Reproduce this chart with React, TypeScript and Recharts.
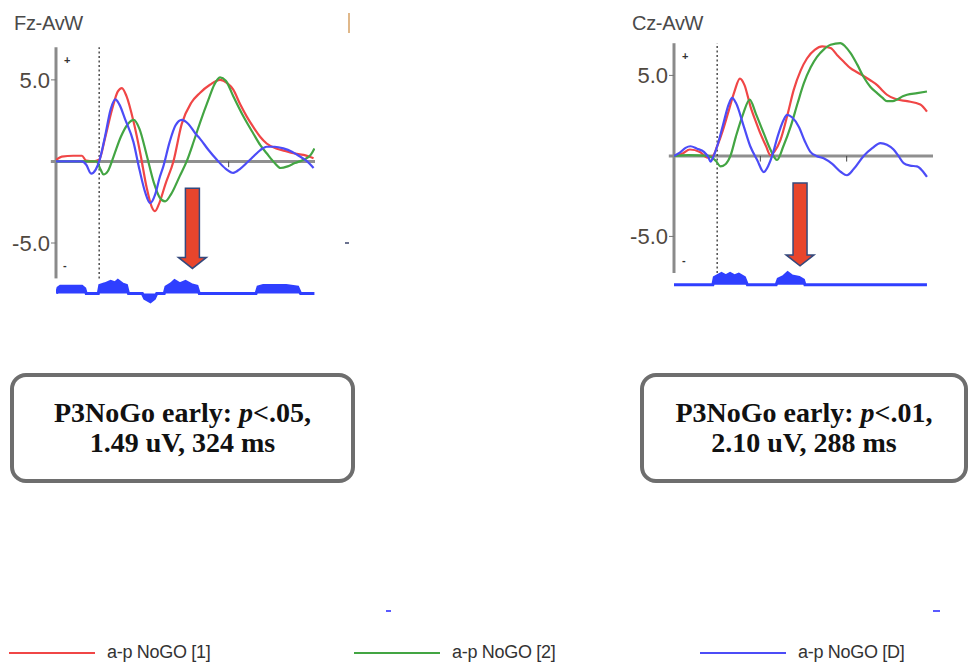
import { ComposedChart, Line, Area, XAxis, YAxis, ReferenceLine } from "recharts";

type Pt = [number, number];

// series names + colours (legend order)
const SERIES_NAMES = ["a-p NoGO [1]", "a-p NoGO [2]", "a-p NoGO [D]"];
const SERIES_COLORS = ["#f04646", "#43a543", "#4c4cf7"];
const SIG_COLOR = "#2f3fff";

const TIME_DOMAIN: [number, number] = [-150, 750];
const Y_TICKS = [5, -5];
const AXIS_TICK_MS = [150, 450];

// Fz panel, [ms, uV]
const fzRed: Pt[] = [
  [-150, 0.1], [-130, 0.3], [-90, 0.35], [-60, 0.35], [-45, 0.05], [-20, 0], [0, 0.1], [20, 1.4], [45, 3.2],
  [65, 4.3], [79, 4.5], [95, 4.0], [120, 2.4], [145, 0.3], [165, -1.6], [183, -2.8], [194, -3.05], [208, -2.6],
  [230, -1.4], [258, 0], [287, 2.3], [320, 3.6], [350, 4.2], [385, 4.7], [420, 5.0], [445, 4.8], [466, 4.4],
  [490, 3.5], [513, 2.75], [536, 2.1], [560, 1.5], [582, 1.1], [615, 0.8], [645, 0.65], [675, 0.5], [710, 0.4], [745, 0.2],
];
const fzGreen: Pt[] = [
  [-150, 0], [-100, 0], [-10, 0], [5, -0.5], [15, -0.8], [30, -0.6], [50, 0.3], [75, 1.5], [100, 2.3], [120, 2.55],
  [140, 2.0], [165, 0.4], [190, -1.3], [210, -2.2], [229, -2.45], [250, -2.0], [280, -0.9], [304, 0], [330, 1.3],
  [350, 2.35], [380, 3.8], [400, 4.7], [420, 5.15], [440, 4.95], [466, 4.0], [500, 2.8], [536, 1.7], [560, 1.0],
  [582, 0.5], [610, -0.1], [630, -0.4], [655, -0.3], [680, -0.1], [710, 0.1], [735, 0.4], [748, 0.8],
];
const fzBlue: Pt[] = [
  [-150, 0], [-60, 0], [-45, -0.2], [-28, -0.75], [-12, -0.5], [0, 0], [20, 1.5], [40, 3.2], [56, 3.8], [70, 3.5],
  [90, 2.6], [119, 1.2], [140, -0.5], [160, -1.9], [177, -2.55], [195, -2.0], [210, -1.0], [223, -0.3], [245, 1.2],
  [265, 2.2], [287, 2.55], [310, 2.3], [335, 1.7], [350, 1.4], [380, 0.7], [409, 0.1], [440, -0.45], [466, -0.7],
  [490, -0.45], [515, -0.05], [536, 0.3], [560, 0.7], [582, 0.9], [610, 0.9], [640, 0.8], [670, 0.6], [698, 0.3],
  [720, 0.05], [745, -0.4],
];
// significance strip height above its baseline
const fzSig: Pt[] = [
  [-148, 0], [-143, 0.35], [-135, 0.45], [-60, 0.45], [-50, 0.3], [-45, 0], [-3, 0], [2, 0.5], [20, 0.6], [40, 0.75],
  [55, 0.65], [65, 0.8], [80, 0.6], [95, 0.5], [102, 0], [150, 0], [158, -0.3], [178, -0.5], [192, -0.3], [200, 0],
  [226, 0], [232, 0.4], [250, 0.6], [262, 0.8], [280, 0.6], [300, 0.75], [320, 0.55], [340, 0.45], [348, 0],
  [545, 0], [552, 0.4], [570, 0.5], [650, 0.5], [690, 0.4], [700, 0], [748, 0],
];

// Cz panel
const czRed: Pt[] = [
  [-150, 0], [-120, 0.15], [-95, 0.4], [-60, 0.25], [-35, -0.1], [-15, 0], [0, 0.6], [20, 1.6], [40, 2.8], [60, 4.0],
  [79, 4.8], [95, 4.4], [116, 3.05], [135, 2.1], [150, 1.4], [170, 0.6], [185, 0.05], [200, 0.3], [220, 1.0],
  [245, 2.6], [266, 4.1], [290, 5.3], [312, 6.05], [340, 6.6], [365, 6.8], [394, 6.7], [420, 6.2], [440, 5.85],
  [463, 5.45], [486, 5.2], [510, 4.95], [532, 4.7], [556, 4.4], [575, 4.05], [590, 3.8], [625, 3.5], [660, 3.4],
  [706, 3.2], [729, 2.75],
];
const czGreen: Pt[] = [
  [-150, 0], [-100, 0.05], [-30, 0], [-5, -0.3], [12, -0.65], [30, -0.5], [46, 0], [65, 1.2], [90, 2.6], [113, 3.5],
  [135, 2.6], [162, 1.4], [185, 0.4], [208, -0.25], [230, 0.6], [255, 1.8], [280, 3.3], [301, 4.5], [325, 5.5],
  [347, 6.15], [370, 6.6], [394, 6.9], [428, 7.0], [445, 6.8], [463, 6.4], [486, 5.7], [509, 4.9], [532, 4.3],
  [556, 3.9], [575, 3.6], [590, 3.4], [610, 3.4], [625, 3.5], [645, 3.7], [660, 3.8], [695, 3.9], [729, 4.0],
];
const czBlue: Pt[] = [
  [-150, 0], [-130, 0.2], [-110, 0.5], [-93, 0.6], [-70, 0.45], [-46, 0.25], [-30, -0.1], [-23, -0.35], [-12, 0],
  [0, 0.6], [20, 1.9], [40, 3.2], [52, 3.6], [65, 3.3], [93, 1.8], [115, 0.6], [139, -0.25], [162, -1.0],
  [178, -0.6], [191, 0], [210, 1.2], [230, 2.2], [243, 2.55], [260, 2.4], [284, 1.8], [305, 0.9], [324, 0.25],
  [345, 0], [370, -0.15], [400, -0.5], [430, -1.0], [451, -1.2], [475, -0.8], [509, 0], [540, 0.5], [567, 0.8],
  [590, 0.7], [613, 0.4], [630, 0], [648, -0.45], [670, -0.6], [694, -0.65], [712, -0.9], [729, -1.3],
];
const czSig: Pt[] = [
  [-150, 0], [-15, 0], [-10, 0.45], [5, 0.6], [15, 0.7], [30, 0.55], [45, 0.7], [60, 0.55], [75, 0.65], [95, 0.45],
  [105, 0], [205, 0], [212, 0.35], [230, 0.5], [245, 0.75], [260, 0.55], [285, 0.45], [300, 0.3], [305, 0], [729, 0],
];

const toRows = (pts: Pt[], offset = 0) => pts.map(([t, v]) => ({ t, v: v + offset }));

function DownArrow(p: any) {
  const cx = p.x1;
  const top = Math.min(p.y1, p.y2);
  const tip = Math.max(p.y1, p.y2);
  const hb = tip - 11;
  const d = `M${cx - 7},${top} L${cx + 7},${top} L${cx + 7},${hb} L${cx + 14},${hb} L${cx},${tip} L${cx - 14},${hb} L${cx - 7},${hb} Z`;
  return <path d={d} fill="#e8452c" stroke="#34497d" strokeWidth={1.5} />;
}

interface PanelProps {
  left: number;
  width: number;
  height: number;
  margin: { top: number; right: number; bottom: number; left: number };
  yDomain: [number, number];
  axisBottom: number;
  sigBase: number;
  red: Pt[];
  green: Pt[];
  blue: Pt[];
  sig: Pt[];
  arrow: [number, number, number]; // ms, top uV, tip uV
}

function Panel(props: PanelProps) {
  const { yDomain, axisBottom, sigBase, arrow } = props;
  const series = [props.red, props.green, props.blue];
  return (
    <div style={{ position: "absolute", left: props.left, top: 0 }}>
      <ComposedChart width={props.width} height={props.height} margin={props.margin}>
        <XAxis type="number" dataKey="t" domain={TIME_DOMAIN} allowDataOverflow hide />
        <YAxis
          type="number"
          domain={yDomain}
          allowDataOverflow
          ticks={Y_TICKS}
          width={56}
          axisLine={false}
          tickSize={5}
          tickMargin={1}
          tickLine={{ stroke: "#777" }}
          tickFormatter={(v: number) => v.toFixed(1)}
          tick={{ fontSize: 22, fill: "#4f483f", fontFamily: "Liberation Sans, Arial" }}
        />
        <ReferenceLine
          segment={[{ x: -168, y: 0 }, { x: 750, y: 0 }]}
          ifOverflow="visible"
          stroke="#8f8f8f"
          strokeWidth={3}
        />
        {AXIS_TICK_MS.map((t) => (
          <ReferenceLine key={t} segment={[{ x: t, y: 0 }, { x: t, y: -0.35 }]} stroke="#444" strokeWidth={1} />
        ))}
        <ReferenceLine
          segment={[{ x: -150, y: axisBottom }, { x: -150, y: 7.0 }]}
          ifOverflow="visible"
          stroke="#8a8a8a"
          strokeWidth={3}
        />
        <ReferenceLine
          segment={[{ x: 0, y: axisBottom }, { x: 0, y: 7.0 }]}
          stroke="#333"
          strokeWidth={1.3}
          strokeDasharray="2 2.5"
        />
        <Area
          data={toRows(props.sig, sigBase)}
          dataKey="v"
          type="linear"
          baseValue={sigBase}
          stroke={SIG_COLOR}
          strokeWidth={3}
          fill={SIG_COLOR}
          fillOpacity={1}
          isAnimationActive={false}
        />
        {series.map((s, i) => (
          <Line
            key={SERIES_NAMES[i]}
            data={toRows(s)}
            dataKey="v"
            type="monotone"
            stroke={SERIES_COLORS[i]}
            strokeWidth={2.2}
            dot={false}
            activeDot={false}
            isAnimationActive={false}
          />
        ))}
        <ReferenceLine
          segment={[{ x: arrow[0], y: arrow[1] }, { x: arrow[0], y: arrow[2] }]}
          shape={DownArrow}
        />
      </ComposedChart>
    </div>
  );
}

const titleStyle: React.CSSProperties = {
  position: "absolute",
  fontFamily: "Liberation Sans, Arial",
  fontSize: 20,
  color: "#4a4a4a",
  letterSpacing: -0.3,
};

const boxStyle: React.CSSProperties = {
  position: "absolute",
  top: 373,
  height: 102,
  border: "4px solid #6e6e6e",
  borderRadius: 16,
  display: "flex",
  alignItems: "center",
  justifyContent: "center",
  textAlign: "center",
  fontFamily: "Liberation Serif, Times New Roman",
  fontWeight: "bold",
  fontSize: 28,
  lineHeight: "30px",
  color: "#111",
  background: "#fff",
};

const signStyle: React.CSSProperties = {
  position: "absolute",
  fontFamily: "Liberation Sans, Arial",
  fontSize: 11,
  fontWeight: "bold",
  color: "#333",
};

const LEGEND_X = [9, 354, 700];

export default function App() {
  return (
    <div style={{ position: "fixed", left: 0, top: 0, width: 972, height: 666, background: "#fff", overflow: "hidden" }}>
      <div style={{ ...titleStyle, left: 14, top: 12 }}>Fz-AvW</div>
      <div style={{ ...titleStyle, left: 632, top: 12 }}>Cz-AvW</div>

      <Panel
        left={0}
        width={325}
        height={310}
        margin={{ top: 44, right: 10, bottom: 5, left: 0 }}
        yDomain={[-8.8, 7.2]}
        axisBottom={-7.17}
        sigBase={-8.1}
        red={fzRed}
        green={fzGreen}
        blue={fzBlue}
        sig={fzSig}
        arrow={[324, -1.65, -6.56]}
      />
      <Panel
        left={618}
        width={325}
        height={300}
        margin={{ top: 40, right: 10, bottom: 4, left: 0 }}
        yDomain={[-8.7, 7.2]}
        axisBottom={-7.27}
        sigBase={-8.0}
        red={czRed}
        green={czGreen}
        blue={czBlue}
        sig={czSig}
        arrow={[288, -1.68, -6.83]}
      />

      <div style={{ ...signStyle, left: 64, top: 54 }}>+</div>
      <div style={{ ...signStyle, left: 63, top: 259 }}>-</div>
      <div style={{ ...signStyle, left: 682, top: 50 }}>+</div>
      <div style={{ ...signStyle, left: 682, top: 254 }}>-</div>

      {/* cropped neighbour-panel remnants */}
      <div style={{ position: "absolute", left: 348, top: 13, width: 2, height: 20, background: "#e0b88a" }} />
      <div style={{ position: "absolute", left: 345, top: 242, width: 4, height: 2, background: "#6b7390" }} />
      <div style={{ position: "absolute", left: 386, top: 610, width: 5, height: 2, background: "#5a5aff" }} />
      <div style={{ position: "absolute", left: 933, top: 610, width: 7, height: 2, background: "#5a5aff" }} />

      <div style={{ ...boxStyle, left: 10, width: 337 }}>
        <div>
          P3NoGo early: <i>p</i>&lt;.05,
          <br />
          1.49 uV, 324 ms
        </div>
      </div>
      <div style={{ ...boxStyle, left: 640, width: 320 }}>
        <div>
          P3NoGo early: <i>p</i>&lt;.01,
          <br />
          2.10 uV, 288 ms
        </div>
      </div>

      {SERIES_NAMES.map((name, i) => (
        <div key={name} style={{ position: "absolute", left: LEGEND_X[i], top: 642, display: "flex", alignItems: "center" }}>
          <div style={{ width: 86, height: 2, background: SERIES_COLORS[i] }} />
          <span style={{ marginLeft: 12, fontFamily: "Liberation Sans, Arial", fontSize: 18, color: "#333", letterSpacing: -0.3 }}>
            {name}
          </span>
        </div>
      ))}
    </div>
  );
}
